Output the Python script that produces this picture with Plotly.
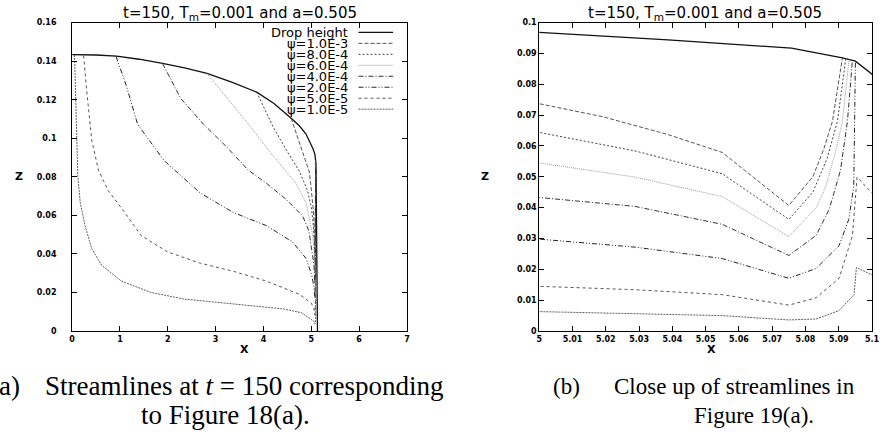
import plotly.graph_objects as go

W, H = 884, 432

# ---------------- data ----------------
drop_x = [0.0, 0.5, 0.93, 1.4, 1.89, 2.35, 2.82, 3.35, 3.86, 4.22, 4.58, 4.75, 4.89, 5.0, 5.0387, 5.0758, 5.0911, 5.095, 5.1, 5.11, 5.12, 5.13]
drop_z = [0.1434, 0.1432, 0.1426, 0.141, 0.1388, 0.1365, 0.1336, 0.129, 0.1239, 0.118, 0.1104, 0.1065, 0.1022, 0.0968, 0.0944, 0.0917, 0.0886, 0.0875, 0.0833, 0.06, 0.02, 0.0]

psi_1e3_x = [4.58, 4.75, 4.88, 4.96, 5.0, 5.019, 5.0387, 5.055, 5.075, 5.0822, 5.0855, 5.0881, 5.0911]
psi_1e3_z = [0.1104, 0.098, 0.089, 0.0825, 0.0737, 0.0695, 0.0637, 0.0579, 0.0407, 0.050, 0.059, 0.068, 0.0886]

psi_8e4_x = [3.86, 4.2, 4.5, 4.75, 4.92, 5.0, 5.0288, 5.055, 5.075, 5.0822, 5.0865, 5.0896, 5.0921]
psi_8e4_z = [0.1239, 0.106, 0.093, 0.083, 0.073, 0.0644, 0.0584, 0.051, 0.0362, 0.045, 0.056, 0.068, 0.0883]

psi_6e4_x = [2.82, 3.3, 3.72, 4.1, 4.44, 4.68, 4.89, 5.0, 5.0288, 5.055, 5.075, 5.0832, 5.0861, 5.089, 5.0911, 5.0931]
psi_6e4_z = [0.1336, 0.119, 0.1063, 0.094, 0.0835, 0.0767, 0.0665, 0.0545, 0.0499, 0.0436, 0.0306, 0.040, 0.0468, 0.058, 0.068, 0.088]

psi_4e4_x = [1.89, 2.27, 2.75, 3.24, 3.68, 4.06, 4.48, 4.82, 4.95, 5.0, 5.0288, 5.055, 5.075, 5.0832, 5.0871, 5.0905, 5.0926, 5.0941]
psi_4e4_z = [0.1388, 0.1207, 0.1072, 0.0953, 0.0835, 0.0767, 0.0682, 0.0597, 0.052, 0.0433, 0.0404, 0.0346, 0.0245, 0.031, 0.0394, 0.052, 0.068, 0.0877]

psi_2e4_x = [0.92, 1.13, 1.37, 1.92, 2.3, 2.68, 3.37, 4.06, 4.61, 4.89, 5.0, 5.0288, 5.055, 5.075, 5.0832, 5.0901, 5.093, 5.0945, 5.0948, 5.095]
psi_2e4_z = [0.1424, 0.1275, 0.1072, 0.0885, 0.080, 0.0716, 0.0615, 0.0547, 0.0462, 0.0377, 0.0298, 0.0272, 0.0235, 0.0171, 0.0203, 0.0277, 0.0362, 0.0468, 0.068, 0.0875]

psi_5e5_x = [0.24, 0.30, 0.41, 0.55, 0.75, 1.10, 1.44, 1.99, 2.68, 3.37, 4.06, 4.75, 5.0, 5.0288, 5.055, 5.075, 5.0832, 5.0901, 5.0941, 5.0953, 5.0955, 5.1]
psi_5e5_z = [0.1429, 0.1258, 0.099, 0.0835, 0.073, 0.0615, 0.0496, 0.0411, 0.0352, 0.031, 0.0259, 0.0191, 0.0145, 0.0134, 0.0118, 0.0084, 0.0108, 0.0171, 0.0309, 0.0457, 0.0499, 0.0447]

psi_1e5_x = [0.05, 0.07, 0.09, 0.12, 0.17, 0.27, 0.41, 0.61, 1.03, 1.65, 2.34, 3.37, 4.41, 4.8, 5.0, 5.0288, 5.055, 5.075, 5.0832, 5.09, 5.0946, 5.0953, 5.1]
psi_1e5_z = [0.1432, 0.12, 0.10, 0.08, 0.0665, 0.0547, 0.0428, 0.0343, 0.0259, 0.020, 0.0166, 0.014, 0.0115, 0.0095, 0.0063, 0.0057, 0.005, 0.0036, 0.0039, 0.0066, 0.0118, 0.0206, 0.0182]

drop_label = "Drop height"
psi_labels = ["ψ=1.0E-3", "ψ=8.0E-4", "ψ=6.0E-4", "ψ=4.0E-4", "ψ=2.0E-4", "ψ=5.0E-5", "ψ=1.0E-5"]
psi_x = [psi_1e3_x, psi_8e4_x, psi_6e4_x, psi_4e4_x, psi_2e4_x, psi_5e5_x, psi_1e5_x]
psi_z = [psi_1e3_z, psi_8e4_z, psi_6e4_z, psi_4e4_z, psi_2e4_z, psi_5e5_z, psi_1e5_z]

title_text = "t=150, T<sub>m</sub>=0.001 and a=0.505"
left_xticks = [0, 1, 2, 3, 4, 5, 6, 7]
left_yticks = [0, 0.02, 0.04, 0.06, 0.08, 0.1, 0.12, 0.14, 0.16]
right_xticks = [5.0, 5.01, 5.02, 5.03, 5.04, 5.05, 5.06, 5.07, 5.08, 5.09, 5.1]
right_xtick_text = ["5", "5.01", "5.02", "5.03", "5.04", "5.05", "5.06", "5.07", "5.08", "5.09", "5.1"]
right_yticks = [0, 0.01, 0.02, 0.03, 0.04, 0.05, 0.06, 0.07, 0.08, 0.09, 0.1]

# ---------------- styles ----------------
psi_dash = ["4px,2px", "2px,2px", "1px,1px", "5px,2px,1px,2px",
            "5px,2px,1px,2px,1px,2px", "3px,3px", "2px,1px"]
psi_color = ["#555555", "#444444", "#9a9a9a", "#333333", "#222222", "#555555", "#606060"]
drop_style = dict(color="#111111", width=1.3)

fig = go.Figure()

for xa, ya in [("x", "y"), ("x2", "y2")]:
    fig.add_trace(go.Scatter(x=drop_x, y=drop_z, xaxis=xa, yaxis=ya, mode="lines",
                             line=drop_style, name=drop_label, showlegend=False))
    for lab, xs, zs, d, c in zip(psi_labels, psi_x, psi_z, psi_dash, psi_color):
        fig.add_trace(go.Scatter(x=xs, y=zs, xaxis=xa, yaxis=ya, mode="lines",
                                 line=dict(color=c, width=1, dash=d), name=lab, showlegend=False))

def px2x(p):
    return p / W

def py2y(p):
    return 1 - p / H

tickfont = dict(family="DejaVu Sans", size=8, color="black", weight="bold")
axis_common = dict(showline=True, linecolor="black", linewidth=1, mirror="allticks",
                   ticks="inside", ticklen=5, tickcolor="black", showgrid=False,
                   zeroline=False, tickfont=tickfont)

ydom = [py2y(334), py2y(19)]
fig.update_layout(
    width=W, height=H, margin=dict(l=0, r=0, t=0, b=0),
    paper_bgcolor="white", plot_bgcolor="white", showlegend=False,
    xaxis=dict(domain=[px2x(70), px2x(409)], range=[0, 7], tickvals=left_xticks,
               anchor="y", **axis_common),
    yaxis=dict(domain=ydom, range=[0, 0.16], tickvals=left_yticks, anchor="x",
               ticklabelstandoff=13, **axis_common),
    xaxis2=dict(domain=[px2x(543), px2x(880)], range=[5, 5.1], tickvals=right_xticks,
                ticktext=right_xtick_text, anchor="y2", ticklabeloverflow="allow",
                **axis_common),
    yaxis2=dict(domain=ydom, range=[0, 0.1], tickvals=right_yticks, anchor="x2",
                ticklabelstandoff=0, **axis_common),
)

ann = []
sans = "DejaVu Sans"
serif = "Liberation Serif"
# titles
for cx in (239.5, 711):
    ann.append(dict(x=px2x(cx), y=py2y(10), xref="paper", yref="paper", text=title_text,
                    showarrow=False, xanchor="center", yanchor="middle",
                    font=dict(family=sans, size=15, color="black")))
# axis labels
for zx, xx in ((16, 245), (488, 717)):
    ann.append(dict(x=px2x(zx), y=py2y(176), xref="paper", yref="paper", text="Z",
                    showarrow=False, xanchor="center", yanchor="middle",
                    font=dict(family=sans, size=11, color="black", weight="bold")))
    ann.append(dict(x=px2x(xx), y=py2y(353), xref="paper", yref="paper", text="X",
                    showarrow=False, xanchor="center", yanchor="middle",
                    font=dict(family=sans, size=11, color="black", weight="bold")))

# legend (text right-aligned, sample line to the right)
leg_labels = [drop_label] + psi_labels
leg_styles = [dict(color=drop_style["color"], width=1.3)] + \
             [dict(color=c, width=1, dash=d) for c, d in zip(psi_color, psi_dash)]
shapes = []
for i, (lab, st) in enumerate(zip(leg_labels, leg_styles)):
    ly = 29 + i * 11.2
    ann.append(dict(x=px2x(351), y=py2y(ly), xref="paper", yref="paper", text=lab,
                    showarrow=False, xanchor="right", yanchor="middle",
                    font=dict(family=sans, size=13, color="black")))
    shapes.append(dict(type="line", xref="paper", yref="paper",
                       x0=px2x(360), x1=px2x(395), y0=py2y(ly), y1=py2y(ly), line=st))

# captions
cap_l = dict(family=serif, size=27, color="black")
cap_r = dict(family=serif, size=23, color="black")
ann.append(dict(x=px2x(19), y=py2y(390), xref="paper", yref="paper", text="(a)",
                showarrow=False, xanchor="right", yanchor="middle", font=cap_l))
ann.append(dict(x=px2x(41), y=py2y(390), xref="paper", yref="paper",
                text="Streamlines at <i>t</i> = 150 corresponding",
                showarrow=False, xanchor="left", yanchor="middle", font=cap_l))
ann.append(dict(x=px2x(225), y=py2y(420), xref="paper", yref="paper",
                text="to Figure 18(a).",
                showarrow=False, xanchor="center", yanchor="middle", font=cap_l))
ann.append(dict(x=px2x(555), y=py2y(391), xref="paper", yref="paper", text="(b)",
                showarrow=False, xanchor="left", yanchor="middle", font=cap_r))
ann.append(dict(x=px2x(617), y=py2y(391), xref="paper", yref="paper",
                text="Close up of streamlines in",
                showarrow=False, xanchor="left", yanchor="middle", font=cap_r))
ann.append(dict(x=px2x(698), y=py2y(420), xref="paper", yref="paper",
                text="Figure 19(a).",
                showarrow=False, xanchor="left", yanchor="middle", font=cap_r))

fig.update_layout(annotations=ann, shapes=shapes)

clip_js = (
    "document.documentElement.style.overflow='hidden';"
    "document.body.style.overflow='hidden';"
    "document.querySelectorAll('.main-svg').forEach(function(s){s.style.overflow='hidden';});"
)
fig.write_html("out.html", post_script=clip_js)
